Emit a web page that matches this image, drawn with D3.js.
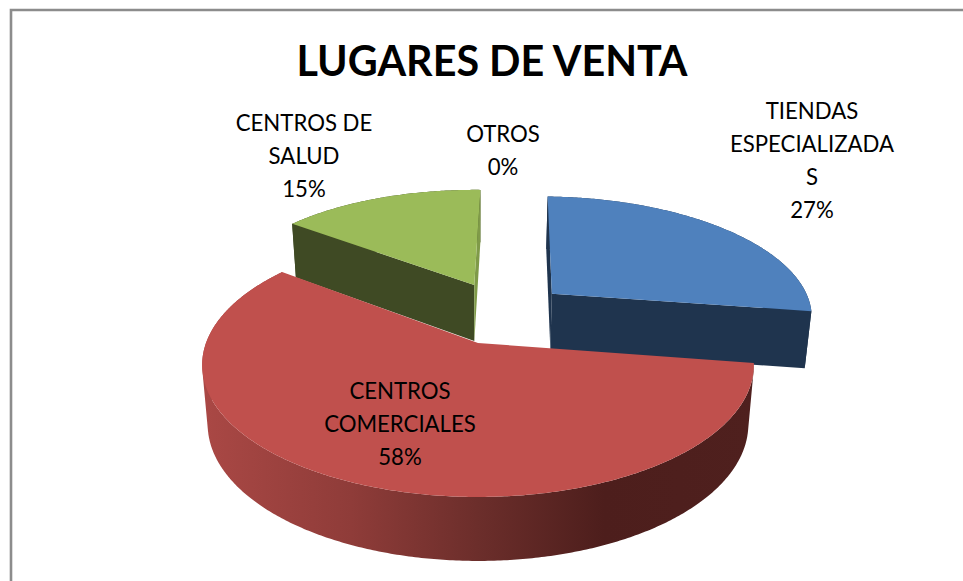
<!DOCTYPE html>
<html>
<head>
<meta charset="utf-8">
<script src="https://cdn.jsdelivr.net/npm/d3@7/dist/d3.min.js"></script>
<style>
html,body{margin:0;padding:0;background:#fff;overflow:hidden}
svg{display:block}
text{font-family:Lato,"Open Sans",sans-serif;fill:#000}
</style>
</head>
<body>
<svg id="chart" width="963" height="581"></svg>
<script>
// ---- data ----
const title = "LUGARES DE VENTA";
const categories = ["TIENDAS ESPECIALIZADAS", "CENTROS COMERCIALES", "CENTROS DE SALUD", "OTROS"];
const values = [27, 58, 15, 0];
const labelLines = [["TIENDAS", "ESPECIALIZADA", "S"], ["CENTROS", "COMERCIALES"], ["CENTROS DE", "SALUD"], ["OTROS"]];

// ---- styling and layout ----
const topColors = ["#4F81BD", "#C0504D", "#9BBB59", "#8064A2"];
const startFaceColors = ["#1F344E", "#4E1E1C", "#3F4A24", "#333"];
const endFaceColors = ["#1F344E", "#4E1E1C", "#7F9A48", "#333"];
const explode = [[0.29, -0.41], [0, 0], [-0.015, -0.49], [0, 0]];
const labelPos = [[812, 119], [400, 399], [304, 131], [503, 142]];
const lineGap = 33;
const firstAngle = 1.5 * Math.PI / 180;

// Perspective projection of the unit pie plane on to the page
const cx = 478, cy = 343, ax = 272, by = 128.3, persp = 1 / 6, depth = 58.4, taper = 0.02;
const project = (u, v, z) => {
  const w = 1 - persp * v;
  return [cx + ax * u / w * (1 - taper * z), cy + by * v / w + depth * z / Math.sqrt(w)];
};

const svg = d3.select("#chart");
const defs = svg.append("defs");
const grad = defs.append("linearGradient").attr("id", "wallRed")
  .attr("gradientUnits", "userSpaceOnUse").attr("x1", 202).attr("x2", 753).attr("y1", 0).attr("y2", 0);
[[0, "#AA4845"], [0.27, "#8F3C39"], [0.5, "#6C2E2B"], [0.73, "#4D1E1C"], [1, "#4F201E"]]
  .forEach(([o, c]) => grad.append("stop").attr("offset", o).attr("stop-color", c));

// chart frame (open on the right and at the bottom)
svg.append("path").attr("d", "M11,581V10H963").attr("fill", "none").attr("stroke", "#8C8C8C").attr("stroke-width", 2.6);

svg.append("text").attr("x", 492).attr("y", 76).attr("text-anchor", "middle")
  .attr("font-size", 41.3).attr("font-weight", 700).text(title);

const pie = d3.pie().sort(null).value(d => d)
  .startAngle(firstAngle).endAngle(firstAngle + 2 * Math.PI)(values);
const line = d3.line();
const total = d3.sum(values);

// rim point at clockwise-from-top angle a
const rim = (i, a) => [explode[i][0] + Math.sin(a), explode[i][1] - Math.cos(a)];
const arcAngles = (s, e) => {
  const n = Math.max(2, Math.ceil((e - s) / 0.01));
  const sc = d3.scaleLinear().domain([0, n]).range([s, e]);
  return d3.range(n + 1).map(sc);
};
const poly = pts => line(pts) + "Z";

// painter's order: back slices first
const order = [2, 0, 3, 1];
order.forEach(i => {
  const p = pie[i];
  if (p.value === 0) return;
  const g = svg.append("g");
  const [tu, tv] = explode[i];
  const angles = arcAngles(p.startAngle, p.endAngle);
  const rimPts = angles.map(a => rim(i, a));

  // outer wall: a union of evenly oriented quads, so the silhouette is swept correctly
  const wallTop = rimPts.map(([u, v]) => project(u, v, 0));
  const wallBot = rimPts.map(([u, v]) => project(u, v, 1));
  const wall = d3.range(rimPts.length - 1).map(k => {
    const q = [wallTop[k], wallTop[k + 1], wallBot[k + 1], wallBot[k]];
    return poly(d3.polygonArea(q) < 0 ? q.reverse() : q);
  }).join("");
  g.append("path").attr("d", wall).attr("fill-rule", "nonzero")
    .attr("fill", i === 1 ? "url(#wallRed)" : startFaceColors[i]);

  // radial cut faces, drawn only if they face the eye
  [[p.startAngle, -1, startFaceColors], [p.endAngle, 1, endFaceColors]].forEach(([a, side, cols]) => {
    const [ru, rv] = rim(i, a);
    // outward normal of the cut, in the plane
    const nu = side * Math.cos(a), nv = side * Math.sin(a);
    const eye = (0 - tu) * nu + (1 / persp - tv) * nv;
    if (eye <= 0) return;
    const quad = [project(tu, tv, 0), project(ru, rv, 0), project(ru, rv, 1), project(tu, tv, 1)];
    g.append("path").attr("d", poly(quad)).attr("fill", cols[i]);
  });

  // top
  const top = [project(tu, tv, 0)].concat(wallTop);
  g.append("path").attr("d", poly(top)).attr("fill", topColors[i]);
});

// labels
categories.forEach((c, i) => {
  const lines = labelLines[i].concat([d3.format(".0%")(values[i] / total)]);
  const t = svg.append("text").attr("text-anchor", "middle").attr("font-size", 22.2);
  lines.forEach((s, k) => t.append("tspan").attr("x", labelPos[i][0]).attr("y", labelPos[i][1] + k * lineGap).text(s));
});
</script>
</body>
</html>
